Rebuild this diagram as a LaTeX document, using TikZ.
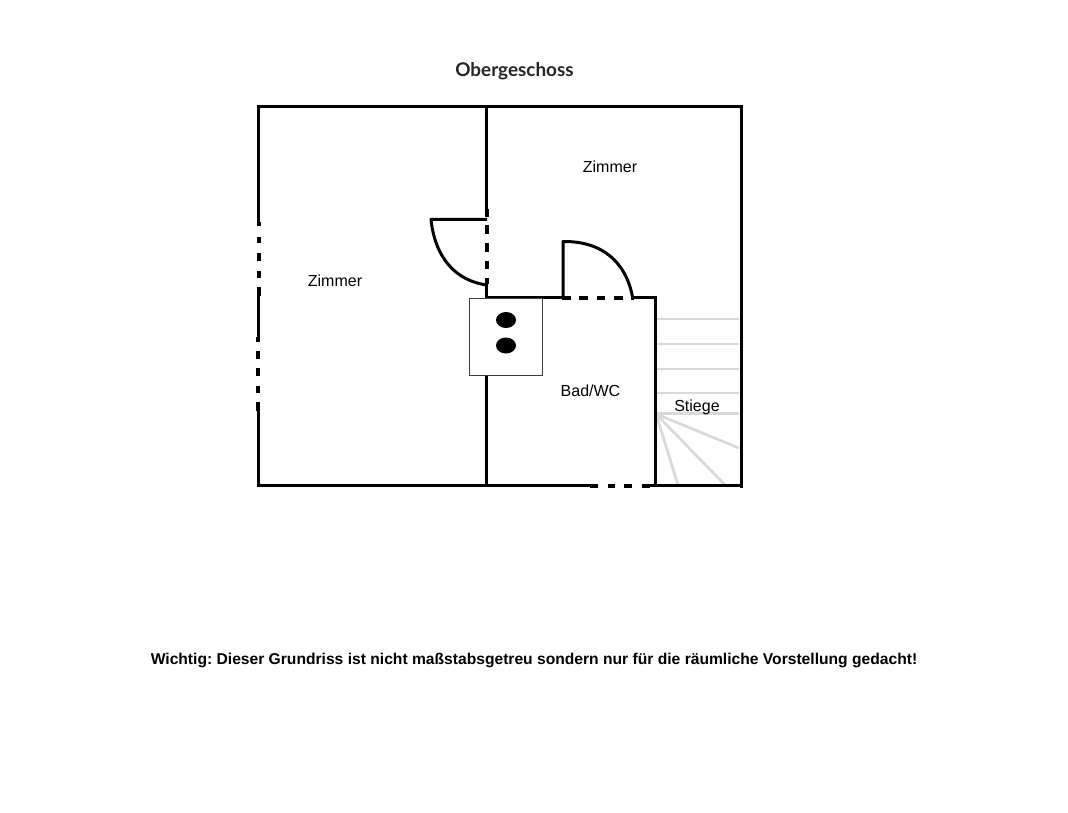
\documentclass[tikz,border=0pt]{standalone}
\usepackage{fontspec}
\setmainfont{Liberation Sans}
\newfontfamily\titlefont{Lato}
\definecolor{stairgrey}{HTML}{D9D9D9}
\frenchspacing
\tikzset{
 wall/.style={line width=3pt,black,line cap=butt},
 slot/.style={line width=4pt,black,line cap=butt},
 stair/.style={line width=2.7pt,color=stairgrey},
 label/.style={inner sep=0pt,font=\fontsize{16}{16}\selectfont},
}
\begin{document}
\begin{tikzpicture}[x=1pt,y=-1pt]
\useasboundingbox (0,0) rectangle (1068,813);
\fill[white] (0,0) rectangle (1068,813);
% stairs
\foreach \y in {319,344,369,393,413.5} \draw[stair] (656,\y) -- (739,\y);
\draw[stair] (656,414) -- (739,448);
\draw[stair] (656,414) -- (725,485);
\draw[stair] (656,414) -- (678,485);
% outer and inner walls
\draw[wall] (258.5,222) -- (258.5,105);
\draw[wall] (257,106.3) -- (742.5,106.3);
\draw[wall] (741,105) -- (741,488);
\draw[wall] (258.5,296) -- (258.5,337);
\draw[wall] (258.5,411) -- (258.5,486);
\draw[wall] (257,485) -- (590,485);
\draw[wall] (650,485) -- (742,485);
\draw[wall] (486.7,106) -- (486.7,217);
\draw[wall] (486.7,278) -- (486.7,298);
\draw[wall] (486.7,375) -- (486.7,485);
\draw[wall] (485.5,297) -- (562,297);
\draw[wall] (634,297) -- (657,297);
\draw[wall] (655.7,296) -- (655.7,486);
% window and door openings
\foreach \a/\b in {222/226,237/243,253/261,271/278,287/296} \draw[slot] (258.5,\a) -- (258.5,\b);
\foreach \a/\b in {337/342,351/359,368/376,386/393,402/411} \draw[slot] (258,\a) -- (258,\b);
\foreach \a/\b in {209/217,225/234,243/252,261/269,278/284} \draw[slot] (487.3,\a) -- (487.3,\b);
\foreach \a/\b in {562/571,579/588,597/605,614/623,631/634} \draw[slot] (\a,297.5) -- (\b,297.5);
\foreach \a/\b in {590/598,608/615,624/632,642/650} \draw[slot] (\a,485.5) -- (\b,485.5);
% doors
\draw[wall,line join=round] (487,219.5) -- (431,219.5) .. controls (435,258) and (456,281) .. (487,285);
\draw[wall,line join=round] (563,297) -- (563,241.5) .. controls (602,241) and (626,262) .. (632.5,297);
% chimney
\draw[line width=1.1pt,fill=white,draw=black!75] (469.7,298.7) rectangle (542.3,375.3);
\fill (506,320) ellipse [x radius=10,y radius=8];
\fill (506,345.5) ellipse [x radius=10,y radius=8];
% labels
\node[inner sep=0pt,font=\titlefont\bfseries\fontsize{18.9}{19}\selectfont,text=black!85] (title) at (514.5,71) {Obergeschoss};
\node[label] (z1) at (335,281) {Zimmer};
\node[label] (z2) at (610,167) {Zimmer};
\node[label] (bad) at (590.5,391) {Bad/WC};
\node[label] (st) at (697,407) {Stiege};
\node[inner sep=0pt,font=\bfseries\fontsize{15.63}{16}\selectfont] (note) at (534,660) {Wichtig: Dieser Grundriss ist nicht maßstabsgetreu sondern nur für die räumliche Vorstellung gedacht!};
\end{tikzpicture}
\end{document}
